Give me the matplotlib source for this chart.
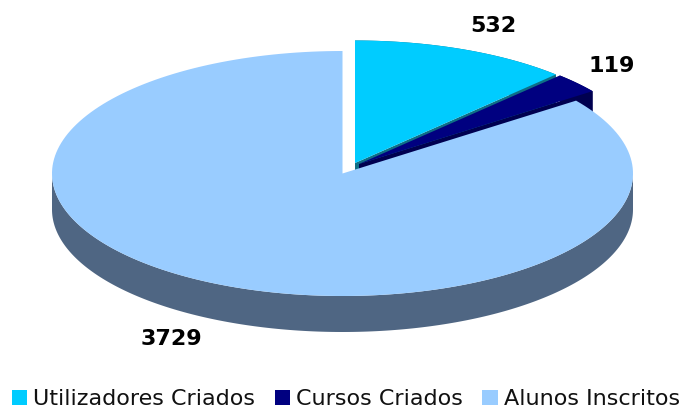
import numpy as np
import matplotlib
matplotlib.use('Agg')
import matplotlib.pyplot as plt
from matplotlib.patches import Polygon, Patch

categories = ['Utilizadores Criados', 'Cursos Criados', 'Alunos Inscritos']
values = [532, 119, 3729]
top_colors = ['#00ccff', '#000080', '#99ccff']
cut_colors = ['#0f6f86', '#000050', '#4f6683']

# tilted pie geometry, in pixels of the 681x408 image
RX, RY, DEPTH = 290.5, 122.5, 36
CENTERS = [(355, 163), (359, 164), (342.5, 173.5)]


def rim(center, start, end, n=200):
    th = np.linspace(start, end, n)
    return np.column_stack([center[0] + RX * np.sin(th), center[1] - RY * np.cos(th)])


def down(pts):
    return pts + np.array([0, DEPTH])


fig = plt.figure(figsize=(6.81, 4.08), dpi=100)
ax = fig.add_axes([0, 0, 1, 1])
ax.set_xlim(0, 681)
ax.set_ylim(408, 0)
ax.axis('off')

edges = np.concatenate([[0], np.cumsum(values)]) / sum(values) * 2 * np.pi

for i in range(3):
    c = np.array(CENTERS[i])
    a, b = edges[i], edges[i + 1]
    arc = rim(c, a, b)
    if i < 2:
        # cut face on the leading side of the pulled out slices
        end_edge = np.array([c, arc[-1]])
        ax.add_patch(Polygon(np.vstack([end_edge, down(end_edge)[::-1]]), fc=cut_colors[i], ec='none'))
        # outer wall
        ax.add_patch(Polygon(np.vstack([arc, down(arc)[::-1]]), fc=cut_colors[i], ec='none'))
    else:
        low = rim(c, max(a, np.pi / 2), min(b, 3 * np.pi / 2))
        ax.add_patch(Polygon(np.vstack([low, down(low)[::-1]]), fc=cut_colors[i], ec='none'))
    ax.add_patch(Polygon(np.vstack([c, arc]), fc=top_colors[i], ec='none'))

label_xy = [(493, 26), (612, 66), (171, 339)]
for v, (x, y) in zip(values, label_xy):
    ax.text(x, y, str(v), ha='center', va='center', fontsize=16, fontweight='bold',
            family='DejaVu Sans', color='black')

handles = [Patch(fc=col, ec='none') for col in top_colors]
ax.legend(handles, categories, ncol=3, loc='lower center', bbox_to_anchor=(0.508, -0.03), frameon=False,
          handlelength=0.68, handleheight=0.68, handletextpad=0.27, columnspacing=0.88,
          borderpad=0, labelcolor='#111111', prop={'family': 'DejaVu Sans', 'size': 16})

fig.savefig('out.png', dpi=100)
